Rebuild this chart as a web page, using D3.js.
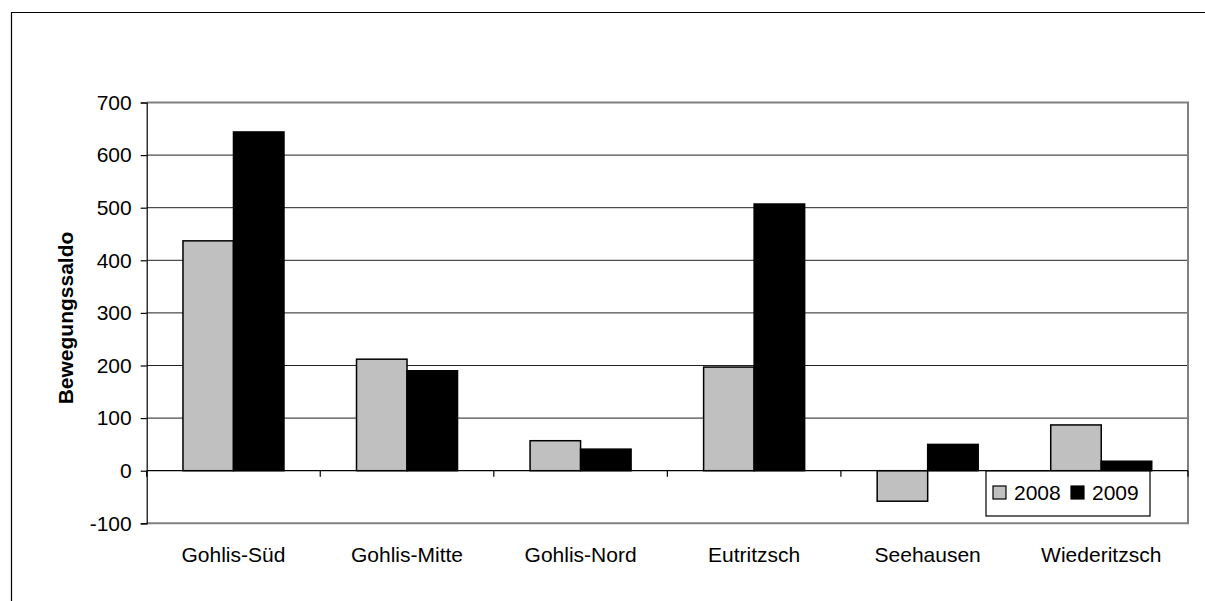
<!DOCTYPE html>
<html>
<head>
<meta charset="utf-8">
<script src="https://cdn.jsdelivr.net/npm/d3@7"></script>
<style>
  html, body { margin: 0; padding: 0; background: #fff; }
  svg { display: block; }
  text { font-family: "Liberation Sans", Arial, sans-serif; fill: #000; }
</style>
</head>
<body>
<svg id="chart" width="1205" height="601"></svg>
<script>
const categories = ["Gohlis-Süd", "Gohlis-Mitte", "Gohlis-Nord", "Eutritzsch", "Seehausen", "Wiederitzsch"];
const seriesNames = ["2008", "2009"];
const values2008 = [437, 212, 57, 197, -58, 87];
const values2009 = [644, 190, 41, 507, 50, 18];
const yTicks = [-100, 0, 100, 200, 300, 400, 500, 600, 700];
const seriesColors = ["#C0C0C0", "#000000"];

const svg = d3.select("#chart");
const plot = { left: 146.7, right: 1188, top: 102.5, bottom: 523.3 };

// outer chart frame (cut at window edge)
svg.append("path")
  .attr("d", `M11.5,601 L11.5,12.5 L1205,12.5`)
  .attr("fill", "none").attr("stroke", "#000").attr("stroke-width", 1.2);

const y = d3.scaleLinear().domain([-100, 700]).range([plot.bottom, plot.top]);
const x0 = d3.scaleBand().domain(categories).range([plot.left, plot.right]).padding(0);
const x1 = d3.scaleBand().domain(seriesNames).range([0, x0.bandwidth()]).paddingInner(0).paddingOuter(0.718);

// gridlines
svg.append("g").selectAll("line").data(yTicks.filter(t => t !== 0 && t !== -100 && t !== 700)).join("line")
  .attr("x1", plot.left).attr("x2", plot.right)
  .attr("y1", d => y(d)).attr("y2", d => y(d))
  .attr("stroke", "#222").attr("stroke-width", 1);

// plot border (gray) top, right, bottom
svg.append("path")
  .attr("d", `M${plot.left},${y(700)} L${plot.right},${y(700)} L${plot.right},${y(-100)} L${plot.left},${y(-100)}`)
  .attr("fill", "none").attr("stroke", "#808080").attr("stroke-width", 2);

// data rows
const rows = categories.map((c, i) => ({ cat: c, vals: [values2008[i], values2009[i]] }));

const groups = svg.append("g").selectAll("g").data(rows).join("g")
  .attr("transform", d => `translate(${x0(d.cat)},0)`);

groups.selectAll("rect").data(d => d.vals.map((v, j) => ({ s: seriesNames[j], v, j }))).join("rect")
  .attr("x", d => x1(d.s))
  .attr("width", x1.bandwidth())
  .attr("y", d => y(Math.max(0, d.v)))
  .attr("height", d => Math.abs(y(d.v) - y(0)))
  .attr("fill", d => seriesColors[d.j])
  .attr("stroke", "#000").attr("stroke-width", 1.5);

// y axis
const yAxis = d3.axisLeft(y).tickValues(yTicks).tickSize(6).tickPadding(9).tickFormat(d => String(d));
const yg = svg.append("g").attr("transform", `translate(${plot.left},0)`).call(yAxis);
yg.select(".domain").attr("stroke", "#000").attr("stroke-width", 1.2);
yg.selectAll(".tick line").attr("stroke", "#000").attr("stroke-width", 1.2);
yg.selectAll(".tick text").style("font-family", '"Liberation Sans", Arial, sans-serif').style("font-size", "21px").attr("fill", "#000");

// x axis at zero with category-boundary ticks
const boundaries = d3.range(categories.length + 1).map(i => plot.left + i * x0.step());
svg.append("line").attr("x1", plot.left).attr("x2", plot.right)
  .attr("y1", y(0)).attr("y2", y(0)).attr("stroke", "#000").attr("stroke-width", 1.2);
svg.append("g").selectAll("line").data(boundaries).join("line")
  .attr("x1", d => d).attr("x2", d => d)
  .attr("y1", y(0)).attr("y2", y(0) + 6)
  .attr("stroke", "#000").attr("stroke-width", 1.2);

// category labels
svg.append("g").selectAll("text").data(categories).join("text")
  .attr("x", d => x0(d) + x0.bandwidth() / 2)
  .attr("y", 562)
  .attr("text-anchor", "middle")
  .style("font-size", "21px")
  .text(d => d);

// y axis title
svg.append("text")
  .attr("transform", `translate(73,318) rotate(-90)`)
  .attr("text-anchor", "middle")
  .style("font-size", "21px").style("font-weight", "bold")
  .text("Bewegungssaldo");

// legend
const lg = svg.append("g");
lg.append("rect").attr("x", 986).attr("y", 471).attr("width", 164).attr("height", 45)
  .attr("fill", "#fff").attr("stroke", "#000").attr("stroke-width", 1.2);
const legendX = [993, 1071];
seriesNames.forEach((s, i) => {
  lg.append("rect").attr("x", legendX[i]).attr("y", 486).attr("width", 13).attr("height", 13)
    .attr("fill", seriesColors[i]).attr("stroke", "#000").attr("stroke-width", 1.2);
  lg.append("text").attr("x", legendX[i] + 21).attr("y", 499.5)
    .style("font-size", "21px").text(s);
});
</script>
</body>
</html>
